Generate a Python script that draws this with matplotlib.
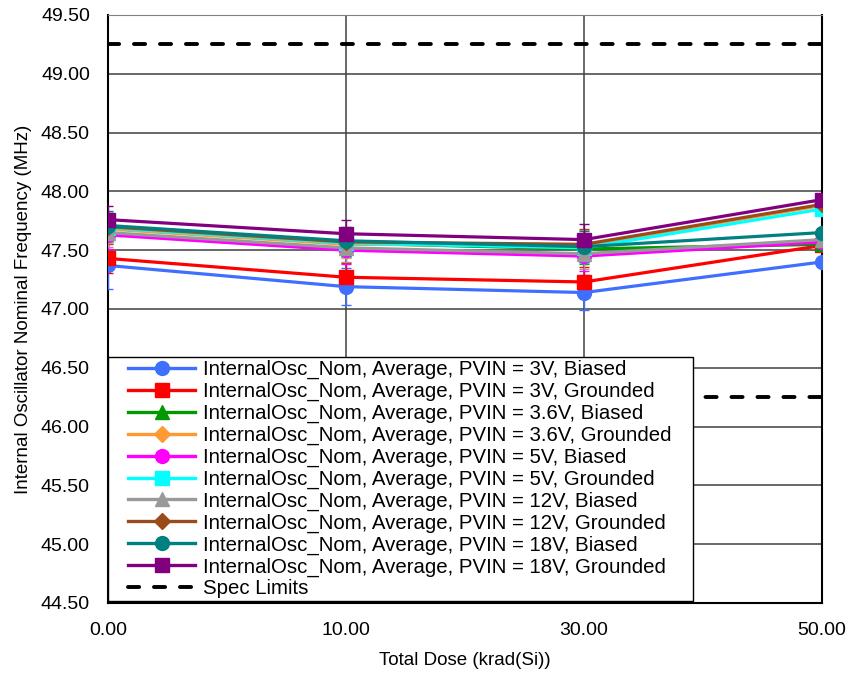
import matplotlib
matplotlib.use("Agg")
import matplotlib.pyplot as plt
from matplotlib.lines import Line2D
from matplotlib.legend_handler import HandlerLine2D
import numpy as np

plt.rcParams['font.family'] = ['Liberation Sans', 'DejaVu Sans']

doses = ["0.00", "10.00", "30.00", "50.00"]

labels = [
    "InternalOsc_Nom, Average, PVIN = 3V, Biased",
    "InternalOsc_Nom, Average, PVIN = 3V, Grounded",
    "InternalOsc_Nom, Average, PVIN = 3.6V, Biased",
    "InternalOsc_Nom, Average, PVIN = 3.6V, Grounded",
    "InternalOsc_Nom, Average, PVIN = 5V, Biased",
    "InternalOsc_Nom, Average, PVIN = 5V, Grounded",
    "InternalOsc_Nom, Average, PVIN = 12V, Biased",
    "InternalOsc_Nom, Average, PVIN = 12V, Grounded",
    "InternalOsc_Nom, Average, PVIN = 18V, Biased",
    "InternalOsc_Nom, Average, PVIN = 18V, Grounded",
]

pvin3_biased = [47.37, 47.19, 47.14, 47.40]
pvin3_grounded = [47.43, 47.27, 47.23, 47.54]
pvin36_biased = [47.70, 47.56, 47.51, 47.55]
pvin36_grounded = [47.68, 47.55, 47.54, 47.88]
pvin5_biased = [47.63, 47.50, 47.45, 47.57]
pvin5_grounded = [47.69, 47.56, 47.52, 47.85]
pvin12_biased = [47.65, 47.52, 47.47, 47.59]
pvin12_grounded = [47.70, 47.57, 47.55, 47.89]
pvin18_biased = [47.71, 47.58, 47.53, 47.65]
pvin18_grounded = [47.76, 47.64, 47.59, 47.93]

err3_biased = [0.20, 0.16, 0.15, 0.02]
err_other = [0.12, 0.12, 0.13, 0.03]

spec_limits = [49.25, 46.25]

series = [pvin3_biased, pvin3_grounded, pvin36_biased, pvin36_grounded,
          pvin5_biased, pvin5_grounded, pvin12_biased, pvin12_grounded,
          pvin18_biased, pvin18_grounded]
errors = [err3_biased] + [err_other] * 9
colors = ["#3F6FFF", "#FF0000", "#009900", "#FF9933", "#FF00FF",
          "#00FFFF", "#999999", "#994C19", "#008080", "#800080"]
markers = ["o", "s", "^", "D", "o", "s", "^", "D", "o", "s"]
msizes = [10, 10, 10, 8, 10, 10, 10, 8, 10, 10]

fig = plt.figure(figsize=(8.51, 6.73), dpi=100)
ax = fig.add_axes([108/851, 1 - 603/673, (822-108)/851, (603-15)/673])

x = np.arange(len(doses))
handles = []
for vals, err, c, m, ms, lab in zip(series, errors, colors, markers, msizes, labels):
    ax.errorbar(x, vals, yerr=err, color=c, marker=m, markersize=ms, lw=2.3,
                elinewidth=1.0, capsize=3.5, capthick=1.0, zorder=3)
    handles.append(Line2D([], [], color=c, marker=m, markersize=ms, lw=2.4))

for s in spec_limits:
    ax.plot([x[0], x[-1]], [s, s], color="black", lw=2.8,
            linestyle=(0, (2.86, 3.82)), dash_capstyle="round", zorder=2)
handles.append(Line2D([], [], color="black", lw=2.8,
                      linestyle=(0, (2.86, 3.82)), dash_capstyle="round"))
leg_labels = labels + ["Spec Limits"]

ax.set_xlim(x[0], x[-1])
ax.set_ylim(44.5, 49.5)
ax.set_xticks(x)
ax.set_xticklabels(doses)
yt = np.arange(44.5, 49.51, 0.5)
ax.set_yticks(yt)
ax.set_yticklabels([f"{v:.2f}" for v in yt])
ax.tick_params(axis="y", length=0, labelsize=14, pad=13)
ax.tick_params(axis="x", length=0, labelsize=14, pad=14)
ax.grid(True, color="#404040", lw=1.1, zorder=0)
ax.set_axisbelow(True)
for side in ["left", "right", "bottom"]:
    ax.spines[side].set_color("black")
    ax.spines[side].set_linewidth(1.5)
ax.spines["top"].set_color("#808080")

ax.set_xlabel("Total Dose (krad(Si))", fontsize=13.5, labelpad=9)
ax.set_ylabel("Internal Oscillator Nominal Frequency (MHz)", fontsize=13.5, labelpad=6)

leg = ax.legend(handles, leg_labels, loc="lower left",
                bbox_to_anchor=(0, 0.003, (693 - 108) / (822 - 108), 0.4),
                mode="expand", borderaxespad=0, fontsize=14.7, frameon=True,
                fancybox=False, edgecolor="black", framealpha=1,
                handlelength=4.12, labelspacing=0.13, borderpad=0.15,
                handletextpad=0.4,
                handler_map={Line2D: HandlerLine2D(xpad=0.83)})
leg.get_frame().set_linewidth(1.0)
leg.set_zorder(5)

fig.savefig("out.png", dpi=100)
